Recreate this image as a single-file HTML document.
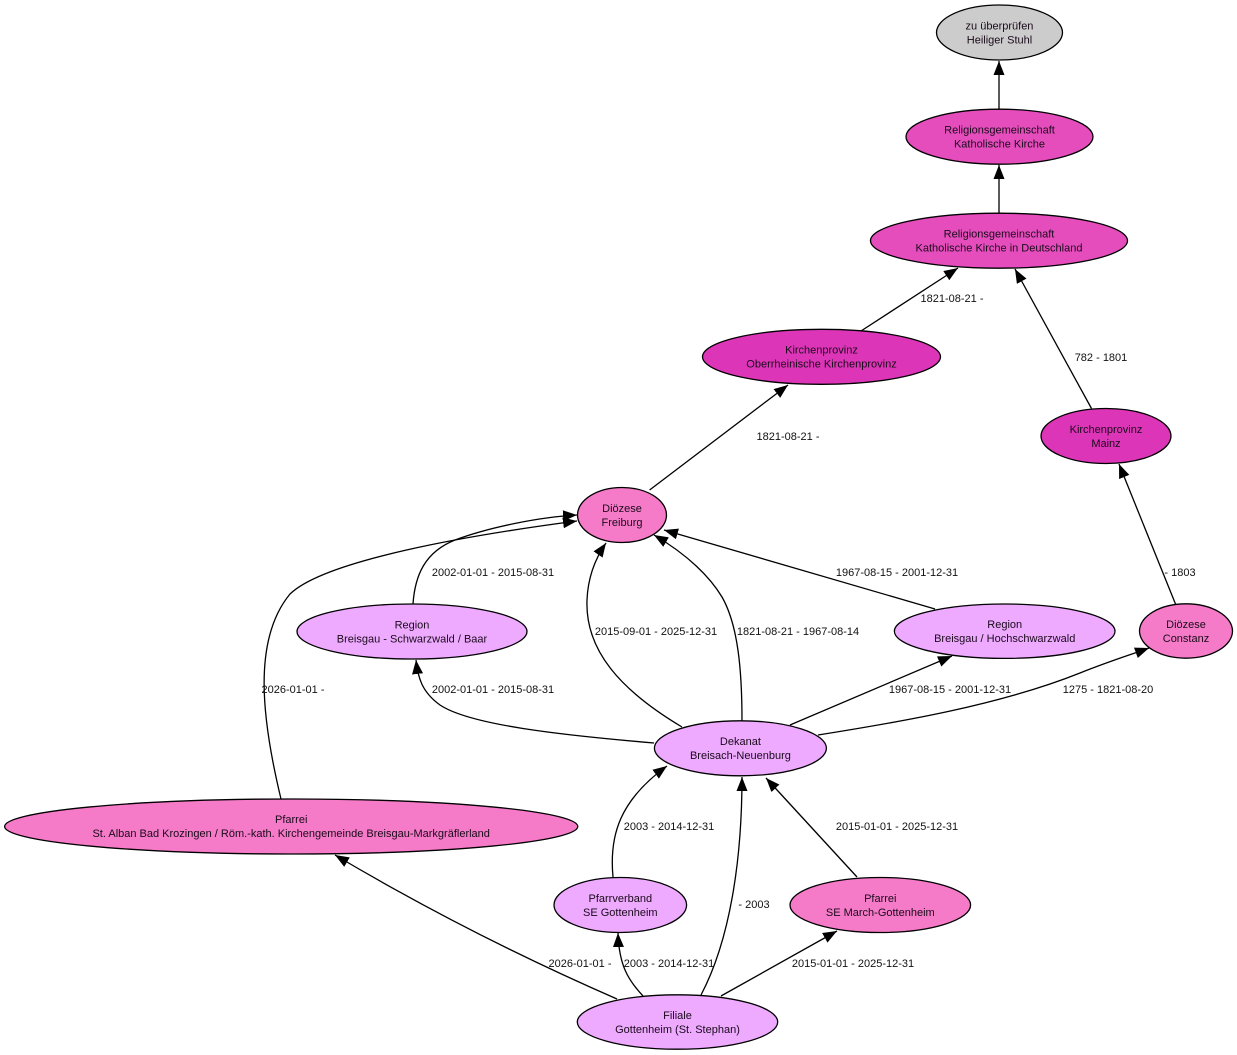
<!DOCTYPE html>
<html>
<head>
<meta charset="utf-8">
<style>
html,body{margin:0;padding:0;background:#fff;}
svg{display:block;}
text{font-family:"Liberation Sans",sans-serif;font-size:11px;}
.n{fill:#1a0a1a;text-anchor:middle;}
.l{fill:#111;text-anchor:middle;}
.e{fill:none;stroke:#000;stroke-width:1.3;}
ellipse{stroke:#000;stroke-width:1.3;}
</style>
</head>
<body>
<svg width="1237" height="1055" viewBox="0 0 1237 1055" xmlns="http://www.w3.org/2000/svg">
<defs>
<marker id="a" viewBox="0 0 14 11" refX="14" refY="5.5" markerWidth="14" markerHeight="11" markerUnits="userSpaceOnUse" orient="auto">
<path d="M0,0L14,5.5L0,11z" fill="#000"/>
</marker>
</defs>
<rect width="1237" height="1055" fill="#fff"/>

<!-- edges -->
<path class="e" marker-end="url(#a)" d="M999,109 L999,61"/>
<path class="e" marker-end="url(#a)" d="M999,213 L999,165"/>
<path class="e" marker-end="url(#a)" d="M861,331 L958,268"/>
<path class="e" marker-end="url(#a)" d="M1091.5,408.5 L1015,269"/>
<path class="e" marker-end="url(#a)" d="M649.6,490 L788,385"/>
<path class="e" marker-end="url(#a)" d="M1175.5,604 L1119,464"/>
<path class="e" marker-end="url(#a)" d="M413,604 C415,575 425,552 455,540 C490,527 540,517 577,515"/>
<path class="e" marker-end="url(#a)" d="M281,799 C262,720 252,640 290,594 C325,560 470,535 577,521"/>
<path class="e" marker-end="url(#a)" d="M682,727 C620,690 585,650 587,600 C588,575 597,556 606,543"/>
<path class="e" marker-end="url(#a)" d="M742,721 C742,670 738,625 722,597 C710,577 688,555 654,535"/>
<path class="e" marker-end="url(#a)" d="M935,609 L664,530"/>
<path class="e" marker-end="url(#a)" d="M654,743 C560,735 470,725 440,705 C422,692 418,678 416,660"/>
<path class="e" marker-end="url(#a)" d="M790,725 L952,656"/>
<path class="e" marker-end="url(#a)" d="M818,735 C900,722 1000,705 1080,673 C1110,661 1130,655 1149,648"/>
<path class="e" marker-end="url(#a)" d="M613,877 C609,835 620,800 667,766"/>
<path class="e" marker-end="url(#a)" d="M701,995 C730,940 742,860 742,777"/>
<path class="e" marker-end="url(#a)" d="M857,877 L766,778"/>
<path class="e" marker-end="url(#a)" d="M643,996 C628,980 619,965 618,933"/>
<path class="e" marker-end="url(#a)" d="M721,996 L837,931"/>
<path class="e" marker-end="url(#a)" d="M617,999 Q470,935 335,855"/>

<!-- edge labels -->
<text class="l" x="952" y="302">1821-08-21 -</text>
<text class="l" x="1101" y="361">782 - 1801</text>
<text class="l" x="788" y="440">1821-08-21 -</text>
<text class="l" x="493" y="576">2002-01-01 - 2015-08-31</text>
<text class="l" x="897" y="576">1967-08-15 - 2001-12-31</text>
<text class="l" x="1180" y="576">- 1803</text>
<text class="l" x="656" y="635">2015-09-01 - 2025-12-31</text>
<text class="l" x="798" y="635">1821-08-21 - 1967-08-14</text>
<text class="l" x="293" y="693">2026-01-01 -</text>
<text class="l" x="493" y="693">2002-01-01 - 2015-08-31</text>
<text class="l" x="950" y="693">1967-08-15 - 2001-12-31</text>
<text class="l" x="1108" y="693">1275 - 1821-08-20</text>
<text class="l" x="669" y="830">2003 - 2014-12-31</text>
<text class="l" x="897" y="830">2015-01-01 - 2025-12-31</text>
<text class="l" x="754" y="908">- 2003</text>
<text class="l" x="580" y="967">2026-01-01 -</text>
<text class="l" x="669" y="967">2003 - 2014-12-31</text>
<text class="l" x="853" y="967">2015-01-01 - 2025-12-31</text>

<!-- nodes -->
<ellipse cx="999.5" cy="32.5" rx="63" ry="27.5" fill="#cccccc"/>
<text class="n" x="999.5" y="29.5">zu überprüfen</text>
<text class="n" x="999.5" y="43.5">Heiliger Stuhl</text>

<ellipse cx="999.5" cy="136.7" rx="93.5" ry="27.5" fill="#e54dbd"/>
<text class="n" x="999.5" y="133.5">Religionsgemeinschaft</text>
<text class="n" x="999.5" y="147.5">Katholische Kirche</text>

<ellipse cx="999" cy="240.7" rx="128.5" ry="27.5" fill="#e54dbd"/>
<text class="n" x="999" y="237.5">Religionsgemeinschaft</text>
<text class="n" x="999" y="251.5">Katholische Kirche in Deutschland</text>

<ellipse cx="821.5" cy="356.8" rx="119" ry="27.5" fill="#dd35b8"/>
<text class="n" x="821.5" y="353.5">Kirchenprovinz</text>
<text class="n" x="821.5" y="367.5">Oberrheinische Kirchenprovinz</text>

<ellipse cx="1106" cy="436" rx="65" ry="27.5" fill="#dd35b8"/>
<text class="n" x="1106" y="433">Kirchenprovinz</text>
<text class="n" x="1106" y="447">Mainz</text>

<ellipse cx="622" cy="515" rx="44.5" ry="27.5" fill="#f57bc8"/>
<text class="n" x="622" y="512">Diözese</text>
<text class="n" x="622" y="526">Freiburg</text>

<ellipse cx="412" cy="631.5" rx="115" ry="27.5" fill="#eeaaff"/>
<text class="n" x="412" y="628.5">Region</text>
<text class="n" x="412" y="642.5">Breisgau - Schwarzwald / Baar</text>

<ellipse cx="1004.7" cy="631.2" rx="110.3" ry="27.2" fill="#eeaaff"/>
<text class="n" x="1004.7" y="628">Region</text>
<text class="n" x="1004.7" y="642">Breisgau / Hochschwarzwald</text>

<ellipse cx="1186" cy="631" rx="46.5" ry="27.2" fill="#f57bc8"/>
<text class="n" x="1186" y="628">Diözese</text>
<text class="n" x="1186" y="642">Constanz</text>

<ellipse cx="740.4" cy="748.3" rx="86" ry="27.5" fill="#eeaaff"/>
<text class="n" x="740.4" y="745">Dekanat</text>
<text class="n" x="740.4" y="759">Breisach-Neuenburg</text>

<ellipse cx="291.2" cy="826.5" rx="286.6" ry="27.5" fill="#f57bc8"/>
<text class="n" x="291.2" y="823">Pfarrei</text>
<text class="n" x="291.2" y="837">St. Alban Bad Krozingen / Röm.-kath. Kirchengemeinde Breisgau-Markgräflerland</text>

<ellipse cx="620.3" cy="905" rx="66.3" ry="27.5" fill="#eeaaff"/>
<text class="n" x="620.3" y="902">Pfarrverband</text>
<text class="n" x="620.3" y="916">SE Gottenheim</text>

<ellipse cx="880.3" cy="905" rx="90.3" ry="27.5" fill="#f57bc8"/>
<text class="n" x="880.3" y="902">Pfarrei</text>
<text class="n" x="880.3" y="916">SE March-Gottenheim</text>

<ellipse cx="677.5" cy="1022" rx="100.2" ry="27.2" fill="#eeaaff"/>
<text class="n" x="677.5" y="1019">Filiale</text>
<text class="n" x="677.5" y="1033">Gottenheim (St. Stephan)</text>
</svg>
</body>
</html>
